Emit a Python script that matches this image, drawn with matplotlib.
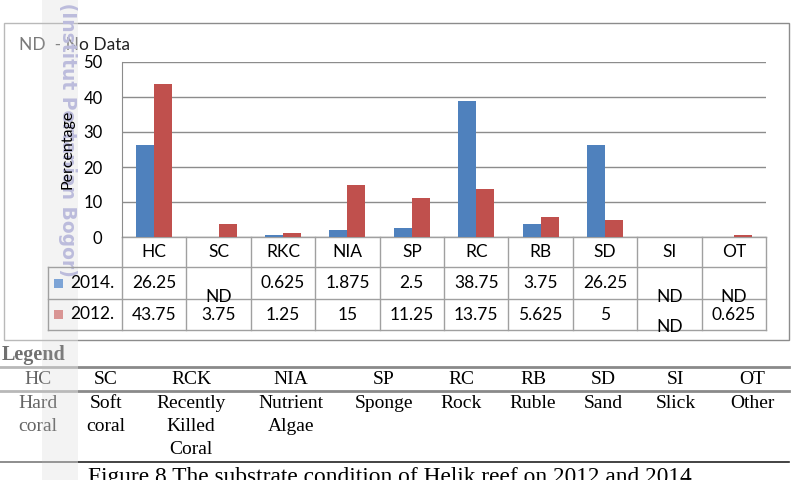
import numpy as np
import matplotlib
matplotlib.use("Agg")
import matplotlib.pyplot as plt
import matplotlib.transforms as mtrans
from matplotlib.patches import Rectangle
from matplotlib.lines import Line2D

# ---------------- data ----------------
categories = ['HC', 'SC', 'RKC', 'NIA', 'SP', 'RC', 'RB', 'SD', 'SI', 'OT']
series_names = ['2014.', '2012.']
values_2014 = [26.25, None, 0.625, 1.875, 2.5, 38.75, 3.75, 26.25, None, None]
values_2012 = [43.75, 3.75, 1.25, 15, 11.25, 13.75, 5.625, 5, None, 0.625]
yticks = [0, 10, 20, 30, 40, 50]
ylabel = 'Percentage'
note = 'ND  - No Data'
missing_label = 'ND'
legend_title = 'Legend'
legend_codes = ['HC', 'SC', 'RCK', 'NIA', 'SP', 'RC', 'RB', 'SD', 'SI', 'OT']
legend_names = ['Hard\ncoral', 'Soft\ncoral', 'Recently\nKilled\nCoral', 'Nutrient\nAlgae',
                'Sponge', 'Rock', 'Ruble', 'Sand', 'Slick', 'Other']
caption = 'Figure 8 The substrate condition of Helik reef on 2012 and 2014'
watermark = 'IPB (Institut Pertanian Bogor)'

# ---------------- style ----------------
W, H = 797, 480
BLUE, RED = '#4f81bd', '#c0504d'
KEY_BLUE, KEY_RED = '#7da4d6', '#d99594'
GRID = '#8c8c8c'
TBL = '#a0a0a0'
SANS = ['Lato', 'DejaVu Sans']
SERIF = ['Liberation Serif', 'DejaVu Serif']

fig = plt.figure(figsize=(W / 100, H / 100), dpi=100)
fig.patch.set_facecolor('white')


def fx(x):
    return x / W


def fy(y):
    return 1 - y / H


AX_L, AX_R, AX_T, AX_B = 122, 766, 62, 237
ax = fig.add_axes([fx(AX_L), fy(AX_B), (AX_R - AX_L) / W, (AX_B - AX_T) / H])
ax.set_zorder(6)
ax.patch.set_alpha(0)

x = np.arange(len(categories))
v14 = np.array([np.nan if v is None else v for v in values_2014], dtype=float)
v12 = np.array([np.nan if v is None else v for v in values_2012], dtype=float)
bw = 0.28
ax.bar(x - bw / 2, v14, bw, color=BLUE, zorder=3)
ax.bar(x + bw / 2, v12, bw, color=RED, zorder=3)

ax.set_xlim(-0.5, len(categories) - 0.5)
ax.set_ylim(0, 50)
ax.set_yticks(yticks)
ax.set_yticklabels([str(t) for t in yticks], fontsize=12, family=SANS)
ax.set_xticks([])
ax.tick_params(axis='y', length=0, pad=14)
ax.yaxis.grid(True, color=GRID, lw=1)
ax.set_axisbelow(True)
for s in ['top', 'right', 'bottom']:
    ax.spines[s].set_visible(False)
ax.spines['left'].set_color(GRID)
ax.set_ylabel(ylabel, fontsize=11.5, family=SANS)
ax.yaxis.set_label_coords(-(AX_L - 74) / (AX_R - AX_L), 0.5)

# ---------------- data table under the axis ----------------
trans = mtrans.blended_transform_factory(ax.transData, ax.transAxes)
ah = AX_B - AX_T


def ty(ypx):
    return (AX_B - ypx) / ah


colw = (AX_R - AX_L) / len(categories)
x_hdr = -0.5 - (AX_L - 48) / colw
x_end = len(categories) - 0.5

for ypx, x0 in [(237, -0.5), (267, x_hdr), (299, x_hdr), (330, x_hdr)]:
    ax.add_line(Line2D([x0, x_end], [ty(ypx), ty(ypx)], transform=trans, color=TBL, lw=1, clip_on=False))
for k in range(len(categories) + 1):
    xv = -0.5 + k
    ax.add_line(Line2D([xv, xv], [ty(237), ty(330)], transform=trans, color=TBL, lw=1, clip_on=False))
ax.add_line(Line2D([x_hdr, x_hdr], [ty(267), ty(330)], transform=trans, color=TBL, lw=1, clip_on=False))

tkw = dict(transform=trans, ha='center', va='center', fontsize=12.5, family=SANS, clip_on=False)
for i, c in enumerate(categories):
    ax.text(i, ty(252), c, **tkw)


def fmt(v):
    return ('%g' % v)


for i, v in enumerate(values_2014):
    if v is None:
        ax.text(i, ty(297), missing_label, **tkw)
    else:
        ax.text(i, ty(283), fmt(v), **tkw)
for i, v in enumerate(values_2012):
    if v is None:
        ax.text(i, ty(327), missing_label, **tkw)
    else:
        ax.text(i, ty(315), fmt(v), **tkw)

# row headers (legend keys)
for name, col, ypx in [(series_names[0], KEY_BLUE, 283), (series_names[1], KEY_RED, 314)]:
    fig.add_artist(Rectangle((fx(54), fy(ypx + 5)), 9 / W, 9 / H, transform=fig.transFigure,
                             facecolor=col, edgecolor='none', zorder=7))
    fig.text(fx(70), fy(ypx), name, ha='left', va='center', fontsize=12.5, family=SANS, zorder=7)

# ---------------- chart frame & note ----------------
fig.add_artist(Rectangle((fx(4), fy(340)), (789 - 4) / W, (340 - 23) / H, transform=fig.transFigure,
                         facecolor='none', edgecolor='#8c8c8c', lw=1, zorder=2))
fig.text(fx(19), fy(45), note, ha='left', va='center', fontsize=12.5, family=SANS, color='#222222', zorder=3)

# ---------------- legend table ----------------
fig.text(fx(2), fy(355), legend_title, ha='left', va='center', fontsize=14.5, family=SERIF,
         weight='bold', color='#111111', zorder=3)
for ypx, col, lw in [(367, '#8a8a8a', 2), (391, '#8a8a8a', 2), (462, '#222222', 1.2)]:
    fig.add_artist(Line2D([fx(0), fx(789)], [fy(ypx), fy(ypx)], transform=fig.transFigure,
                          color=col, lw=lw, zorder=3))
legend_x = [38, 106, 191, 291, 384, 461, 533, 603, 676, 752]
for cx, code, name in zip(legend_x, legend_codes, legend_names):
    fig.text(fx(cx), fy(380), code, ha='center', va='center', fontsize=14, family=SERIF, zorder=3)
    fig.text(fx(cx), fy(395), name, ha='center', va='top', fontsize=14, family=SERIF,
             linespacing=1.45, multialignment='center', zorder=3)

fig.text(fx(88), fy(467), caption, ha='left', va='top', fontsize=16.8, family=SERIF, zorder=3)

# ---------------- watermark overlay ----------------
fig.add_artist(Rectangle((0, 0), fx(42), 1, transform=fig.transFigure,
                         facecolor='white', edgecolor='none', alpha=0.4, zorder=5))
fig.add_artist(Rectangle((fx(42), 0), (78 - 42) / W, 1, transform=fig.transFigure,
                         facecolor='#e8e8e8', edgecolor='none', alpha=0.5, zorder=5))
fig.text(fx(67), fy(277), watermark, rotation=-90, ha='center', va='bottom', fontsize=13.5,
         family=['DejaVu Sans'], weight='bold', color='#bcbcdc', zorder=5.5)

fig.savefig('out.png', dpi=100)
